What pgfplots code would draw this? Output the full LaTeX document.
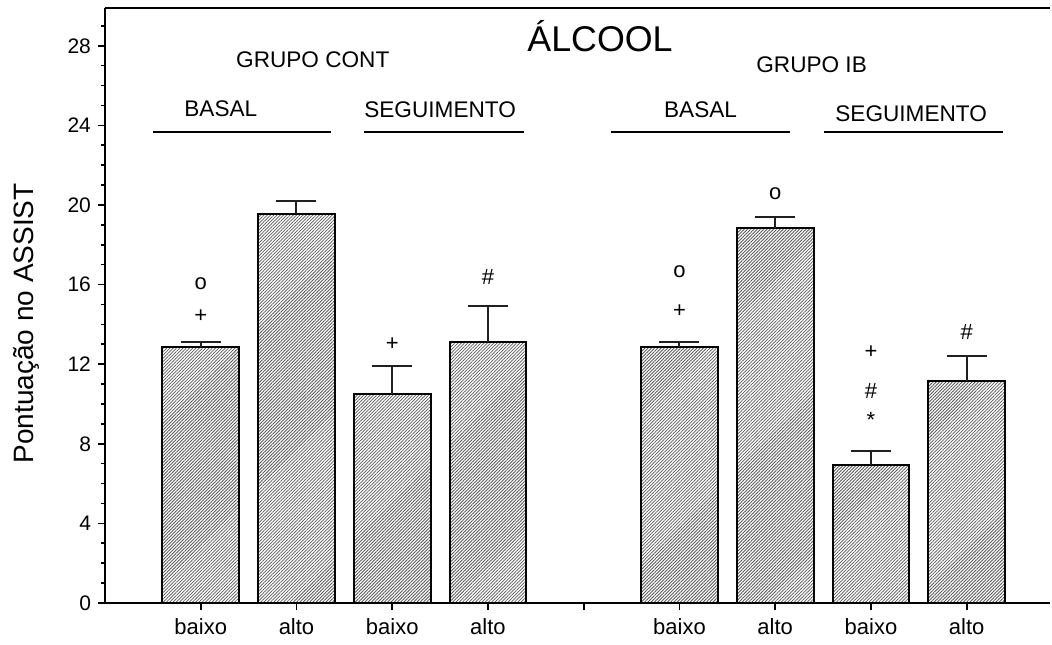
\documentclass[border=0pt]{standalone}
\usepackage{fontspec}
\setmainfont{Liberation Sans}
\usepackage{pgfplots}
\pgfplotsset{compat=1.18}
\usetikzlibrary{patterns.meta}

\begin{document}
\begin{tikzpicture}
\begin{axis}[
  scale only axis, width=472.5pt, height=297.5pt,
  xmin=0, xmax=9.87, ymin=0, ymax=29.9,
  axis lines=left, axis line style={-, line width=1pt},
  xtick={1,...,9}, xticklabels={baixo,alto,baixo,alto,{},baixo,alto,baixo,alto},
  ytick={0,4,...,28}, minor ytick={1,...,29},
  tick align=outside, major tick length=3.5pt, minor tick length=2pt,
  tick style={line width=0.8pt, black},
  xticklabel style={font=\fontsize{11}{13}\selectfont, yshift=-1pt},
  yticklabel style={font=\fontsize{10.5}{13}\selectfont},
  /pgf/number format/assume math mode=true,
  ylabel={Pontuação no ASSIST},
  ylabel style={font=\fontsize{14}{16}\selectfont, at={(axis description cs:-0.083,0.47)}, anchor=center},
  clip=false,
]
\addplot[ybar, bar width=0.8, draw=black, line width=1pt,
  pattern={Lines[angle=45,distance=1.15pt,line width=0.4pt]}, pattern color=gray!70!black,
  error bars/.cd, y dir=plus, y explicit, error mark=|,
  error bar style={line width=1pt, gray!25!black},
  error mark options={line width=1pt, mark size=10pt, gray!25!black}]
coordinates {
(1,12.85) +- (0,0.25)
(2,19.55) +- (0,0.65)
(3,10.5) +- (0,1.42)
(4,13.1) +- (0,1.8)
(6,12.85) +- (0,0.25)
(7,18.85) +- (0,0.55)
(8,6.95) +- (0,0.7)
(9,11.15) +- (0,1.27)
};
\addplot[draw=none, mark=none, nodes near coords, point meta=explicit symbolic,
  every node near coord/.append style={anchor=center, font=\fontsize{11}{12}\selectfont, inner sep=0pt}]
coordinates {
(1,16.07) [o]
(1,14.4) [+]
(3,13.0) [+]
(4,16.4) [\#]
(6,16.66) [o]
(6,14.68) [+]
(7,20.56) [o]
(8,12.6) [+]
(8,10.67) [\#]
(8,9.2) [*]
(9,13.64) [\#]
};
\draw[line width=1pt] (rel axis cs:0,1) -- (rel axis cs:1,1);
\draw[line width=1pt] (axis cs:0.50,23.65) -- (axis cs:2.357,23.65);
\draw[line width=1pt] (axis cs:2.70,23.65) -- (axis cs:4.38,23.65);
\draw[line width=1pt] (axis cs:5.28,23.65) -- (axis cs:7.15,23.65);
\draw[line width=1pt] (axis cs:7.51,23.65) -- (axis cs:9.38,23.65);
\node[anchor=base, font=\fontsize{17.9}{20}\selectfont] at (axis cs:5.17,27.7) {ÁLCOOL};
\node[anchor=base, font=\fontsize{11.3}{13}\selectfont] at (axis cs:2.17,26.9) {GRUPO CONT};
\node[anchor=base, font=\fontsize{11.3}{13}\selectfont] at (axis cs:7.38,26.65) {GRUPO IB};
\node[anchor=base, font=\fontsize{11.3}{13}\selectfont] at (axis cs:1.21,24.43) {BASAL};
\node[anchor=base, font=\fontsize{11.3}{13}\selectfont] at (axis cs:3.50,24.38) {SEGUIMENTO};
\node[anchor=base, font=\fontsize{11.3}{13}\selectfont] at (axis cs:6.22,24.38) {BASAL};
\node[anchor=base, font=\fontsize{11.3}{13}\selectfont] at (axis cs:8.42,24.18) {SEGUIMENTO};
\end{axis}
\pgfresetboundingbox
\path[use as bounding box] ([shift={(-52.5pt,-21pt)}]current axis.south west) rectangle ([shift={(1pt,4pt)}]current axis.north east);
\end{tikzpicture}
\end{document}
